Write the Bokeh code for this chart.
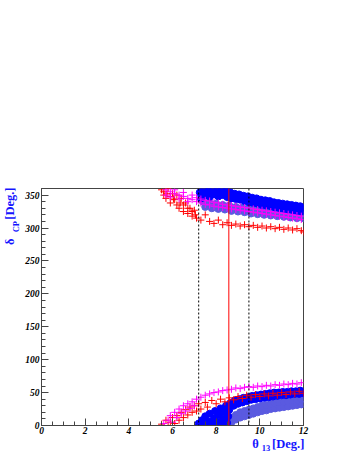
from bokeh.plotting import figure
from bokeh.models import Range1d, Span, FixedTicker, LinearAxis
from bokeh.embed import file_html
from bokeh.resources import INLINE

# ---------------- data ----------------
x_ticks = [0, 2, 4, 6, 8, 10, 12]
y_ticks = [0, 50, 100, 150, 200, 250, 300, 350]

# dark blue circles
blue_x = [7.25, 7.3, 7.45, 7.5, 7.65, 7.7, 7.85, 7.9, 8.05, 8.1, 8.25, 8.3, 8.45, 8.5, 8.65, 8.7,
          8.85, 8.9, 9.05, 9.1, 9.25, 9.3, 9.45, 9.5, 9.65, 9.7, 9.85, 9.9, 10.05, 10.1, 10.25, 10.3,
          10.45, 10.5, 10.65, 10.7, 10.85, 10.9, 11.05, 11.1, 11.25, 11.3, 11.45, 11.5, 11.65, 11.7,
          11.85, 11.9, 12.0,
          7.2, 7.35, 7.5, 7.5, 7.65, 7.7, 7.85, 7.9, 7.95, 8.05, 8.1, 8.2, 8.25, 8.3, 8.35, 8.45,
          8.5, 8.55, 8.6, 8.65, 8.8, 8.85, 9.0, 9.05, 9.2, 9.25, 9.4, 9.45, 9.6, 9.65, 9.8, 9.85,
          10.0, 10.05, 10.2, 10.25, 10.4, 10.45, 10.6, 10.65, 10.8, 10.85, 11.0, 11.05, 11.2, 11.25,
          11.4, 11.45, 11.6, 11.65, 11.8, 11.85, 12.0]
blue_y = [354, 345, 359, 350, 356, 347, 360, 351, 357, 348, 359, 350, 356, 347, 354, 345,
          352, 344, 351, 343, 349, 341, 348, 339, 346, 338, 345, 337, 343, 335, 342, 334,
          341, 333, 339, 331, 338, 330, 337, 329, 336, 328, 335, 327, 334, 326,
          333, 325, 330,
          3, 8, 2, 14, 6, 18, 2, 11, 22, 5, 16, 26, 1, 10, 20, 30,
          4, 14, 24, 34, 30, 38, 33, 40, 35, 42, 37, 43, 39, 45, 40, 46,
          41, 47, 42, 48, 43, 49, 44, 50, 45, 50, 46, 51, 46, 51,
          47, 52, 48, 52, 48, 53, 49]

# slate blue circles
slate_x = [7.4, 7.5, 7.7, 7.8, 8.0, 8.1, 8.3, 8.4, 8.6, 8.7, 8.9, 9.0, 9.2, 9.3, 9.5, 9.6,
           9.8, 9.9, 10.1, 10.2, 10.4, 10.5, 10.7, 10.8, 11.0, 11.1, 11.3, 11.4, 11.6, 11.7, 11.9, 12.0,
           7.9, 8.1, 8.3, 8.5, 8.7, 8.7, 8.9, 8.9, 9.1, 9.1, 9.3, 9.3, 9.5, 9.5, 9.7, 9.7,
           9.9, 9.9, 10.1, 10.1, 10.3, 10.3, 10.5, 10.5, 10.7, 10.7, 10.9, 10.9, 11.1, 11.1,
           11.3, 11.3, 11.5, 11.5, 11.7, 11.7, 11.9, 11.9]
slate_y = [340, 332, 338, 330, 337, 329, 335, 328, 334, 326, 332, 325, 331, 324, 330, 322,
           328, 321, 327, 320, 326, 319, 325, 318, 324, 317, 323, 316, 322, 315, 321, 315,
           2, 5, 3, 8, 5, 12, 9, 16, 12, 20, 14, 22, 16, 24, 18, 26,
           20, 28, 22, 30, 23, 31, 25, 33, 26, 34, 27, 35, 28, 36,
           29, 37, 30, 38, 31, 39, 32, 40]

# red crosses
red_x = [5.5, 5.6, 5.6, 5.7, 5.75, 5.8, 5.9, 5.9, 6.0, 6.05, 6.1, 6.2, 6.2, 6.3, 6.35, 6.4,
         6.5, 6.5, 6.6, 6.7, 6.7, 6.8, 6.9, 6.9, 7.0, 7.05, 7.1, 7.3, 7.5, 7.7, 7.9, 8.1, 8.3,
         8.5, 8.7, 8.9, 9.1, 9.3, 9.5, 9.7, 9.9, 10.1, 10.3, 10.5, 10.7, 10.9, 11.1, 11.3, 11.5,
         11.7, 11.9, 12.0,
         5.5, 5.7, 5.8, 5.9, 6.0, 6.1, 6.2, 6.3, 6.4, 6.5, 6.6, 6.7, 6.8, 6.9, 7.0, 7.1, 7.2,
         7.3, 7.5, 7.6, 7.8, 8.0, 8.2, 8.4, 8.6, 8.8, 9.0, 9.2, 9.4, 9.6, 9.8, 10.0, 10.2,
         10.4, 10.6, 10.8, 11.0, 11.2, 11.4, 11.6, 11.8, 12.0]
red_y = [358, 350, 355, 345, 352, 360, 338, 348, 352, 344, 343, 335, 350, 330, 338, 345,
         325, 335, 338, 322, 330, 330, 318, 325, 327, 320, 315, 312, 320, 310, 307, 312, 305,
         308, 304, 306, 303, 305, 302, 304, 301, 303, 300, 302, 299, 301, 298, 300, 297,
         299, 296, 294,
         2, 8, 0, 5, 12, 3, 15, 8, 20, 12, 24, 16, 28, 20, 30, 22, 33,
         25, 35, 28, 38, 33, 40, 36, 42, 39, 44, 41, 46, 43, 47, 44, 48,
         45, 49, 46, 50, 47, 51, 48, 52, 49]

# magenta crosses
mag_x = [5.7, 5.7, 5.9, 5.9, 6.1, 6.1, 6.3, 6.3, 6.5, 6.5, 6.7, 6.7, 6.9, 6.9, 7.1, 7.1,
         7.3, 7.3, 7.5, 7.5, 7.7, 7.7, 7.9, 7.9, 8.1, 8.1, 8.3, 8.3, 8.5, 8.5, 8.7, 8.7,
         8.9, 8.9, 9.1, 9.1, 9.3, 9.3, 9.5, 9.5, 9.7, 9.7, 9.9, 9.9, 10.1, 10.1, 10.3, 10.3,
         10.5, 10.5, 10.7, 10.7, 10.9, 10.9, 11.1, 11.1, 11.3, 11.3, 11.5, 11.5, 11.7, 11.7,
         11.9, 11.9,
         5.6, 5.8, 5.9, 6.0, 6.1, 6.2, 6.3, 6.4, 6.5, 6.6, 6.7, 6.8, 6.9, 7.0, 7.1, 7.3,
         7.5, 7.7, 7.9, 8.1, 8.3, 8.5, 8.7, 8.9, 9.1, 9.3, 9.5, 9.7, 9.9, 10.1, 10.3,
         10.5, 10.7, 10.9, 11.1, 11.3, 11.5, 11.7, 11.9]
mag_y = [358, 350, 355, 347, 352, 358, 350, 344, 348, 354, 345, 340, 343, 350, 340, 346,
         338, 344, 336, 342, 335, 341, 333, 339, 332, 338, 331, 336, 330, 335, 329, 334,
         328, 333, 327, 332, 326, 331, 325, 330, 324, 329, 323, 328, 322, 327, 321, 326,
         320, 325, 319, 324, 318, 323, 317, 322, 316, 321, 315, 320, 314, 319,
         313, 318,
         3, 8, 15, 5, 20, 12, 25, 18, 30, 22, 33, 26, 36, 30, 40, 43,
         46, 48, 50, 51, 53, 54, 55, 57, 56, 58, 59, 58, 60, 59, 61,
         60, 62, 61, 63, 62, 64, 63, 65]

dotted_x = [7.2, 9.5]
red_line_x = 8.58

# axis title pieces: (position along the axis: text)
x_title_main = {9.80: "θ", 11.30: "[Deg.]"}
x_title_sub = {10.28: "13"}
y_title_main = {279.0: "δ", 337.0: "[Deg.]"}
y_title_sub = {302.0: "CP"}

# ---------------- figure ----------------
FONT = "Liberation Serif"
AXC = "#444444"
BLUE_T = "#1414ff"
W, H = 346, 455

p = figure(width=W, height=H, output_backend="svg", toolbar_location=None,
           x_range=Range1d(0, 12), y_range=Range1d(0, 360),
           min_border_left=41, min_border_right=43, min_border_top=188, min_border_bottom=30)
p.grid.visible = False
p.outline_line_color = AXC
p.outline_line_width = 1
p.background_fill_color = "white"
p.border_fill_color = "white"

p.xaxis.ticker = FixedTicker(ticks=x_ticks, minor_ticks=[i * 0.5 for i in range(25)])
p.yaxis.ticker = FixedTicker(ticks=y_ticks, minor_ticks=[i * 10 for i in range(37)])
for ax in (p.xaxis[0], p.yaxis[0]):
    ax.axis_line_color = AXC
    ax.major_tick_line_color = AXC
    ax.minor_tick_line_color = AXC
    ax.major_tick_in = 7
    ax.major_tick_out = 0
    ax.minor_tick_in = 4
    ax.minor_tick_out = 0
    ax.major_label_text_font = FONT
    ax.major_label_text_font_style = "bold italic"
    ax.major_label_text_font_size = "9.5px"
    ax.major_label_text_color = "black"
p.xaxis[0].major_label_standoff = 1
p.yaxis[0].major_label_standoff = 2


def title_axis(labels, size, standoff, side):
    ax = LinearAxis(ticker=FixedTicker(ticks=list(labels.keys()), minor_ticks=[]),
                    major_label_overrides=labels,
                    axis_line_color=None, major_tick_line_color=None,
                    minor_tick_line_color=None,
                    major_tick_in=0, major_tick_out=0, minor_tick_in=0, minor_tick_out=0,
                    major_label_text_font=FONT, major_label_text_font_style="bold",
                    major_label_text_font_size=size, major_label_text_color=BLUE_T,
                    major_label_standoff=standoff)
    if side == "left":
        ax.major_label_orientation = "vertical"
    p.add_layout(ax, side)
    return ax


# x title: theta_13 [Deg.]
title_axis(x_title_main, "12.5px", 0, "below")
title_axis(x_title_sub, "8.5px", -9, "below")
# y title: delta_CP [Deg.]  (subscript axis nearest the frame)
title_axis(y_title_sub, "8.5px", 1, "left")
title_axis(y_title_main, "12.5px", -9, "left")

# marks
p.scatter(slate_x, slate_y, marker="circle", size=7, fill_color="#5a5ae0", line_color="#5a5ae0")
p.scatter(blue_x, blue_y, marker="circle", size=7, fill_color="#0000ff", line_color="#0000ff")
p.scatter(red_x, red_y, marker="cross", size=7, line_color="#ff0000", line_width=1)
p.scatter(mag_x, mag_y, marker="cross", size=7, line_color="#ff00ff", line_width=1)

for xv in dotted_x:
    p.add_layout(Span(location=xv, dimension="height", line_color="black",
                      line_width=1, line_dash="2 2"))
p.add_layout(Span(location=red_line_x, dimension="height", line_color="#ff0000", line_width=1))

open("out.html", "w").write(file_html(p, INLINE))
